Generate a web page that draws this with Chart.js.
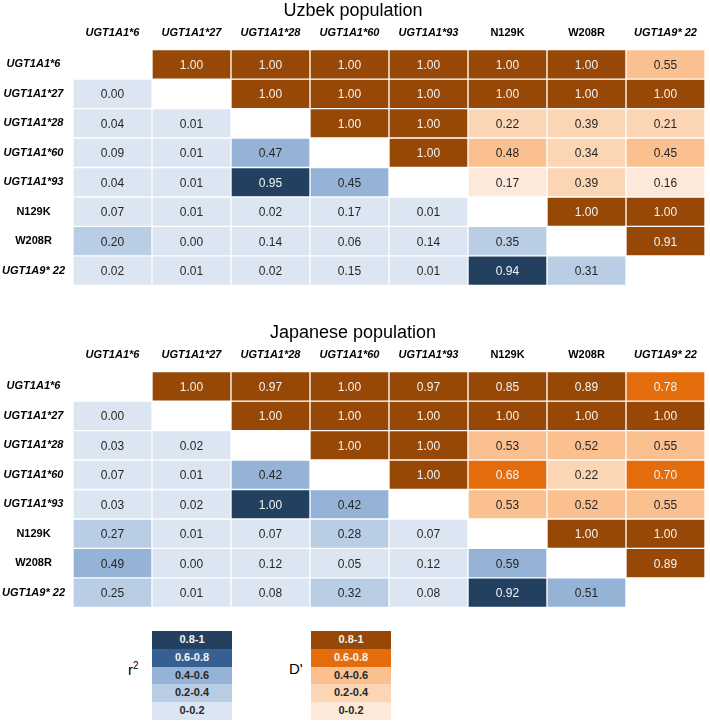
<!DOCTYPE html>
<html>
<head>
<meta charset="utf-8">
<title>LD plot</title>
<script src="https://cdn.jsdelivr.net/npm/chart.js@4.4.1/dist/chart.umd.min.js"></script>
<style>
  body { margin: 0; background: #fff; width: 710px; height: 722px; position: relative; overflow: hidden;
         font-family: 'Liberation Sans', Arial, sans-serif; }
  canvas { position: absolute; left: 0; }
  #uzbek { top: 0; }
  #japanese { top: 322px; }
  .key { position: absolute; top: 631px; width: 80px; }
  .key div { height: 17.8px; line-height: 17.8px; text-align: center; font-size: 11px; font-weight: bold; }
  .keyLabel { position: absolute; top: 660px; font-size: 15px; color: #000; }
</style>
</head>
<body>
<canvas id="uzbek" width="710" height="300"></canvas>
<canvas id="japanese" width="710" height="300"></canvas>
<div class="keyLabel" style="left:128px">r<sup style="font-size:10px">2</sup></div>
<div class="key" id="keyR2" style="left:152px"></div>
<div class="keyLabel" style="left:289px">D'</div>
<div class="key" id="keyD" style="left:311px"></div>
<script>
// marqueurs (lignes et colonnes)
const markers = ['UGT1A1*6', 'UGT1A1*27', 'UGT1A1*28', 'UGT1A1*60', 'UGT1A1*93', 'N129K', 'W208R', 'UGT1A9* 22'];

// triangle supérieur : D', triangle inférieur : r²
const uzbekLD = [
  [null, 1.00, 1.00, 1.00, 1.00, 1.00, 1.00, 0.55],
  [0.00, null, 1.00, 1.00, 1.00, 1.00, 1.00, 1.00],
  [0.04, 0.01, null, 1.00, 1.00, 0.22, 0.39, 0.21],
  [0.09, 0.01, 0.47, null, 1.00, 0.48, 0.34, 0.45],
  [0.04, 0.01, 0.95, 0.45, null, 0.17, 0.39, 0.16],
  [0.07, 0.01, 0.02, 0.17, 0.01, null, 1.00, 1.00],
  [0.20, 0.00, 0.14, 0.06, 0.14, 0.35, null, 0.91],
  [0.02, 0.01, 0.02, 0.15, 0.01, 0.94, 0.31, null]
];

const japaneseLD = [
  [null, 1.00, 0.97, 1.00, 0.97, 0.85, 0.89, 0.78],
  [0.00, null, 1.00, 1.00, 1.00, 1.00, 1.00, 1.00],
  [0.03, 0.02, null, 1.00, 1.00, 0.53, 0.52, 0.55],
  [0.07, 0.01, 0.42, null, 1.00, 0.68, 0.22, 0.70],
  [0.03, 0.02, 1.00, 0.42, null, 0.53, 0.52, 0.55],
  [0.27, 0.01, 0.07, 0.28, 0.07, null, 1.00, 1.00],
  [0.49, 0.00, 0.12, 0.05, 0.12, 0.59, null, 0.89],
  [0.25, 0.01, 0.08, 0.32, 0.08, 0.92, 0.51, null]
];

// classes de couleur
const bandLabels = ['0.8-1', '0.6-0.8', '0.4-0.6', '0.2-0.4', '0-0.2'];
const bandLimits = [0.8, 0.6, 0.4, 0.2, 0];
const dPrimeColors = ['#974806', '#e46c0a', '#fac090', '#fcd5b5', '#fde9d9'];
const r2Colors = ['#244061', '#376092', '#95b3d7', '#b9cde5', '#dce6f2'];

const FONT = "'Liberation Sans', Arial, sans-serif";
Chart.defaults.font.family = FONT;
Chart.defaults.color = '#000';

const band = (v) => bandLimits.findIndex(l => v >= l - 1e-9);
const textColor = (v) => band(v) < 2 ? '#f4f4f4' : '#262626';

const labelFont = (ctx) => ({
  size: 11,
  weight: 'bold',
  style: markers[ctx.index] && markers[ctx.index].startsWith('UGT') ? 'italic' : 'normal'
});

const makeChart = (id, title, matrix) => {
  // valeurs écrites au centre des cellules
  const cellText = {
    id: 'cellText',
    afterDatasetsDraw(chart) {
      const ctx = chart.ctx;
      ctx.save();
      ctx.font = '12px ' + FONT;
      ctx.textAlign = 'center';
      ctx.textBaseline = 'middle';
      chart.data.datasets.forEach((ds, r) => {
        chart.getDatasetMeta(r).data.forEach((bar, c) => {
          const v = matrix[r][c];
          if (v === null) return;
          const p = bar.getCenterPoint();
          ctx.fillStyle = textColor(v);
          ctx.fillText(v.toFixed(2), p.x, p.y + 1);
        });
      });
      ctx.restore();
    }
  };

  const datasets = markers.map((m, r) => ({
    label: m,
    yAxisID: 'yv',
    data: matrix[r].map(v => v === null ? null : [r, r + 1]),
    backgroundColor: matrix[r].map((v, c) =>
      v === null ? 'rgba(0,0,0,0)' : (c > r ? dPrimeColors : r2Colors)[band(v)]),
    borderColor: '#ffffff',
    borderWidth: 1,
    borderSkipped: false,
    barPercentage: 1,
    categoryPercentage: 1,
    grouped: false
  }));

  return new Chart(document.getElementById(id), {
    type: 'bar',
    data: { labels: markers, datasets },
    options: {
      responsive: false,
      animation: false,
      devicePixelRatio: 1,
      layout: { padding: { left: 1, right: 5, top: 0, bottom: 2 } },
      plugins: {
        legend: { display: false },
        tooltip: { enabled: false },
        title: {
          display: true,
          text: title,
          color: '#000',
          font: { size: 18, weight: 'normal', family: FONT },
          padding: { top: 0, bottom: 0 }
        }
      },
      scales: {
        x: {
          type: 'category',
          position: 'top',
          offset: true,
          grid: { display: false, drawTicks: false },
          border: { display: false },
          ticks: { padding: 10, color: '#000', font: labelFont, maxRotation: 0 },
          afterFit: (s) => { s.height = 28; }
        },
        y: {
          type: 'category',
          labels: markers,
          offset: true,
          grid: { display: false, drawTicks: false },
          border: { display: false },
          ticks: { crossAlign: 'center', padding: 8, color: '#000', font: labelFont },
          afterFit: (s) => { s.width = 72; }
        },
        yv: { type: 'linear', min: 0, max: 8, reverse: true, display: false }
      }
    },
    plugins: [cellText]
  });
};

makeChart('uzbek', 'Uzbek population', uzbekLD);
makeChart('japanese', 'Japanese population', japaneseLD);

// légendes des classes
const buildKey = (id, colors) => {
  const box = document.getElementById(id);
  bandLabels.forEach((lab, i) => {
    const d = document.createElement('div');
    d.textContent = lab;
    d.style.background = colors[i];
    d.style.color = i < 2 ? '#f4f4f4' : '#262626';
    box.appendChild(d);
  });
};
buildKey('keyR2', r2Colors);
buildKey('keyD', dPrimeColors);
</script>
</body>
</html>
